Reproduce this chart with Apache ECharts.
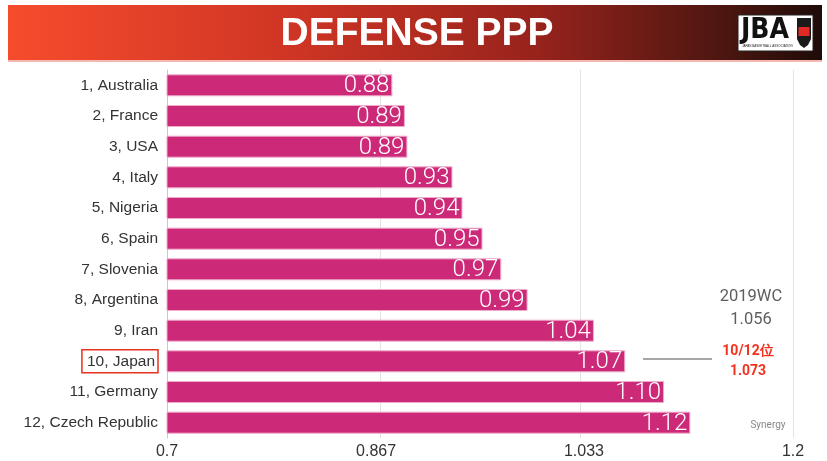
<!DOCTYPE html>
<html>
<head>
<meta charset="utf-8">
<script src="https://cdn.jsdelivr.net/npm/echarts@6/dist/echarts.min.js"></script>
<style>
  html, body { margin: 0; padding: 0; background: #fff; }
  #chart { width: 827px; height: 461px; }
</style>
</head>
<body>
<div id="chart"></div>
<script>
// Team ranking by defensive points per possession
const teams = [
  '1, Australia', '2, France', '3, USA', '4, Italy', '5, Nigeria', '6, Spain',
  '7, Slovenia', '8, Argentina', '9, Iran', '10, Japan', '11, Germany', '12, Czech Republic'
];
const ppp = [0.88, 0.89, 0.892, 0.928, 0.936, 0.952, 0.967, 0.988, 1.041, 1.066, 1.097, 1.118];
const xTicks = [0.7, 0.867, 1.033, 1.2];
const highlightTeam = '10, Japan';

const chart = echarts.init(document.getElementById('chart'));
const font = "'Helvetica Neue', Roboto, 'Liberation Sans', Arial, sans-serif";
const sans = "'Liberation Sans', Arial, sans-serif";

chart.setOption({
  animation: false,
  grid: { left: 167, right: 34, top: 70, bottom: 23, containLabel: false },
  xAxis: {
    type: 'value',
    min: 0.7,
    max: 1.2,
    axisLine: { show: false },
    axisTick: { show: false },
    splitLine: { show: false },
    axisLabel: {
      customValues: xTicks,
      formatter: v => String(v),
      color: '#333',
      fontSize: 16,
      fontFamily: sans,
      margin: 6
    }
  },
  yAxis: {
    type: 'category',
    inverse: true,
    data: teams,
    axisLine: { show: true, lineStyle: { color: '#c8c8c8', width: 1 } },
    axisTick: { show: false },
    axisLabel: {
      color: '#333',
      fontSize: 15.5,
      fontFamily: sans,
      margin: 9,
      formatter: v => v === highlightTeam ? '{hl|' + v + '}' : v,
      rich: {
        hl: {
          color: '#333', fontSize: 15.5, fontFamily: sans,
          borderColor: '#e8321e', borderWidth: 1.5,
          padding: [4, 3, 3, 5]
        }
      }
    }
  },
  series: [{
    type: 'bar',
    data: ppp,
    barWidth: 22,
    itemStyle: { color: '#cc2a78', borderColor: '#eeaccb', borderWidth: 1 },
    label: {
      show: true,
      position: 'insideRight',
      distance: 3,
      offset: [0, 1],
      formatter: p => p.value.toFixed(2),
      color: '#fff',
      fontSize: 24,
      fontWeight: 300,
      fontFamily: font
    },
    markLine: {
      silent: true,
      symbol: 'none',
      label: { show: false },
      lineStyle: { color: '#e3e3e3', type: 'solid', width: 1 },
      data: [{ xAxis: 0.8667 }, { xAxis: 1.0333 }, { xAxis: 1.2 }],
      z: 0
    },
    z: 2
  }],
  graphic: [
    // title banner
    {
      type: 'rect', x: 8, y: 5, z: 10,
      shape: { width: 814, height: 55 },
      style: {
        fill: new echarts.graphic.LinearGradient(0, 0, 1, 0, [
          { offset: 0, color: '#f64c2d' },
          { offset: 0.35, color: '#cf3524' },
          { offset: 0.65, color: '#97231c' },
          { offset: 0.88, color: '#4c1610' },
          { offset: 1, color: '#1e0b08' }
        ])
      }
    },
    {
      type: 'rect', x: 8, y: 60, z: 10,
      shape: { width: 814, height: 2 },
      style: { fill: '#f4b8b0' }
    },
    {
      type: 'text', x: 417, y: 15, z: 11,
      style: {
        text: 'DEFENSE PPP', fill: '#fff', fontSize: 39, fontWeight: 'bold',
        align: 'center', verticalAlign: 'top',
        fontFamily: sans
      }
    },
    // association logo
    {
      type: 'rect', x: 738, y: 15, z: 11,
      shape: { width: 75, height: 36 },
      style: { fill: '#fff', stroke: '#222', lineWidth: 1 }
    },
    {
      type: 'text', x: 741, y: 17, z: 12,
      style: { text: 'JBA', fill: '#111', fontSize: 28, fontWeight: 'bold', verticalAlign: 'top',
        fontFamily: "'Liberation Sans Narrow', 'DejaVu Sans Condensed', sans-serif" }
    },
    {
      type: 'text', x: 742, y: 45, z: 12,
      style: { text: 'JAPAN BASKETBALL ASSOCIATION', fill: '#222', fontSize: 3, verticalAlign: 'top',
        fontFamily: sans }
    },
    {
      type: 'polygon', z: 12,
      shape: { points: [[797, 18], [811, 18], [811, 39], [808, 45], [804, 48], [800, 45], [797, 39]] },
      style: { fill: '#1a1a1a' }
    },
    {
      type: 'rect', x: 798.5, y: 27, z: 13,
      shape: { width: 11, height: 9 },
      style: { fill: '#e12a26' }
    },
    // world cup reference value
    {
      type: 'text', x: 751, y: 285, z: 5,
      style: { text: '2019WC\n1.056', fill: '#5e5e5e', fontSize: 16.5, lineHeight: 23,
        align: 'center', verticalAlign: 'top', fontFamily: font }
    },
    // Japan callout
    {
      type: 'line', z: 5,
      shape: { x1: 643, y1: 359, x2: 712, y2: 359 },
      style: { stroke: '#8a8a8a', lineWidth: 1.5 }
    },
    {
      type: 'text', x: 748, y: 341, z: 5,
      style: { text: '10/12位\n1.073', fill: '#f2311f', fontSize: 14, fontWeight: 'bold',
        lineHeight: 20, align: 'center', verticalAlign: 'top', fontFamily: font }
    },
    {
      type: 'text', x: 768, y: 420, z: 5,
      style: { text: 'Synergy', fill: '#888', fontSize: 10, align: 'center', verticalAlign: 'top', fontFamily: font }
    }
  ]
});
</script>
</body>
</html>
